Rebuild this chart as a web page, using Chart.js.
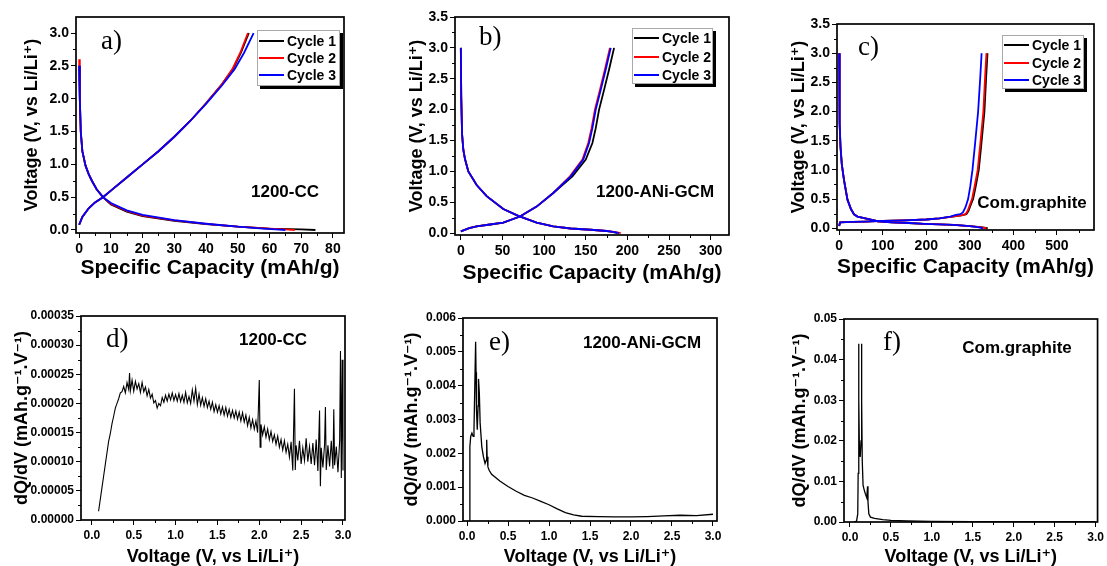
<!DOCTYPE html>
<html>
<head>
<meta charset="utf-8">
<script src="https://cdn.jsdelivr.net/npm/chart.js@4.4.0/dist/chart.umd.min.js"></script>
<style>
    html, body { margin: 0; padding: 0; background: #fff; }
    #wrap { position: relative; width: 1107px; height: 566px; overflow: hidden; background: #fff; }
    #wrap canvas { position: absolute; }
</style>
</head>
<body>
<div id="wrap">
    <canvas id="pa" width="370" height="290" style="left:0px;top:0px"></canvas>
    <canvas id="pb" width="370" height="290" style="left:370px;top:0px"></canvas>
    <canvas id="pc" width="370" height="290" style="left:737px;top:0px"></canvas>
    <canvas id="pd" width="370" height="290" style="left:0px;top:290px"></canvas>
    <canvas id="pe" width="370" height="290" style="left:370px;top:290px"></canvas>
    <canvas id="pf" width="370" height="290" style="left:737px;top:290px"></canvas>
</div>
<script>
// ---- data ----
const legendLabels = ['Cycle 1', 'Cycle 2', 'Cycle 3'];
const cycleColors = ['#000000', '#ff0000', '#0000ff'];

// a) 1200-CC
const aCap1Dis = [0, 0.2, 0.5, 1, 2, 3, 4, 5.5, 7.5, 10, 15, 20, 30, 40, 50, 60, 70, 74.5];
const aVolt1Dis = [2.5, 2.0, 1.5, 1.2, 0.98, 0.85, 0.75, 0.62, 0.5, 0.39, 0.28, 0.21, 0.14, 0.09, 0.05, 0.022, 0.008, 0.0];
const aCap2Dis = [0, 0.2, 0.5, 1, 2, 3, 4, 5.5, 7.5, 10, 15, 20, 30, 40, 50, 60, 65, 68];
const aVolt2Dis = [2.6, 2.0, 1.5, 1.2, 0.98, 0.85, 0.75, 0.62, 0.5, 0.4, 0.29, 0.22, 0.145, 0.092, 0.05, 0.02, 0.008, 0.0];
const aCap3Dis = [0, 0.2, 0.5, 1, 2, 3, 4, 5.5, 7.5, 10, 15, 20, 30, 40, 50, 58, 62, 65];
const aVolt3Dis = [2.5, 2.0, 1.5, 1.2, 0.98, 0.85, 0.75, 0.62, 0.5, 0.41, 0.3, 0.23, 0.15, 0.095, 0.05, 0.022, 0.01, 0.0];
const aCap1Chg = [0, 1, 3, 5, 7.5, 10, 15, 20, 25, 30, 35, 40, 45, 48.5, 51, 53.5];
const aCap2Chg = [0, 1, 3, 5, 7.5, 10, 15, 20, 25, 30, 35, 40, 45, 48.3, 50.8, 53.2];
const aVolt12Chg = [0.08, 0.2, 0.33, 0.42, 0.5, 0.6, 0.8, 1.0, 1.2, 1.42, 1.66, 1.93, 2.22, 2.45, 2.7, 3.0];
const aCap3Chg = [0, 1, 3, 5, 7.5, 10, 15, 20, 25, 30, 35, 40, 45, 49, 52, 55];
const aVolt3Chg = [0.08, 0.2, 0.33, 0.42, 0.5, 0.6, 0.8, 1.0, 1.2, 1.42, 1.66, 1.92, 2.2, 2.45, 2.7, 3.0];

// b) 1200-ANi-GCM
const bCap1Dis = [0, 0.5, 1.5, 3, 5, 9, 19, 31, 51, 69, 91, 111, 132, 156, 175, 183, 188];
const bCap2Dis = [0, 0.5, 1.5, 3, 5, 9, 19, 31, 51, 69, 91, 111, 132, 156, 175, 186, 192];
const bCap3Dis = [0, 0.5, 1.5, 3, 5, 9, 19, 31, 51, 69, 91, 111, 132, 156, 175, 185, 190];
const bVoltDis = [3.0, 2.2, 1.6, 1.35, 1.2, 1.0, 0.78, 0.6, 0.39, 0.28, 0.17, 0.11, 0.075, 0.055, 0.035, 0.015, 0.0];
const bCap1Chg = [0, 10, 19, 35, 51, 71, 91, 111, 134, 150, 158, 162, 166, 172, 178, 184];
const bCap2Chg = [0, 10, 19, 35, 51, 71, 91, 111, 131, 146, 153, 157, 161, 167, 173, 179];
const bCap3Chg = [0, 10, 19, 35, 51, 71, 91, 111, 132, 147, 154, 158, 162, 168, 174, 180];
const bVoltChg = [0.03, 0.08, 0.11, 0.14, 0.17, 0.27, 0.43, 0.65, 0.92, 1.19, 1.46, 1.7, 2.0, 2.32, 2.65, 3.0];

// c) Com.graphite
const cCap1Dis = [0, 0.5, 1.5, 3, 6, 11, 19, 27, 34, 42, 65, 88, 120, 160, 195, 230, 263, 300, 325, 341];
const cCap2Dis = [0, 0.5, 1.5, 3, 6, 11, 19, 27, 34, 42, 65, 88, 120, 160, 195, 230, 263, 300, 323, 338];
const cCap3Dis = [0, 0.5, 1.5, 3, 6, 11, 19, 27, 34, 42, 65, 88, 120, 160, 195, 230, 263, 300, 318, 330];
const cVoltDis = [3.0, 2.4, 1.8, 1.4, 1.1, 0.83, 0.49, 0.33, 0.24, 0.2, 0.16, 0.12, 0.1, 0.09, 0.075, 0.065, 0.057, 0.035, 0.018, 0.0];
const cCap1Chg = [0, 2, 30, 60, 100, 150, 200, 230, 260, 281, 292, 297, 302, 307.5, 313.5, 320.5, 326.5, 333.5, 337.5, 340.5];
const cCap2Chg = [0, 2, 30, 60, 100, 150, 200, 230, 260, 280, 290, 295, 300, 305, 311, 318, 324, 331, 335, 338];
const cCap3Chg = [0, 2, 30, 60, 100, 150, 200, 230, 255, 268, 278, 284, 290, 296, 301, 306, 312, 319, 324, 327];
const cVolt12Chg = [0.04, 0.1, 0.11, 0.115, 0.125, 0.135, 0.15, 0.17, 0.2, 0.22, 0.24, 0.3, 0.4, 0.5, 0.72, 1.0, 1.45, 2.0, 2.6, 3.0];
const cVolt3Chg = [0.04, 0.1, 0.11, 0.115, 0.125, 0.135, 0.15, 0.17, 0.2, 0.23, 0.24, 0.27, 0.36, 0.5, 0.72, 1.0, 1.45, 2.0, 2.6, 3.0];

// d) 1200-CC dQ/dV
const dVolt = [
    0.08, 0.10, 0.12, 0.14, 0.16, 0.18, 0.20, 0.22, 0.24, 0.26,
    0.28, 0.30, 0.32, 0.34, 0.36, 0.38, 0.40, 0.42, 0.44, 0.45,
    0.46, 0.48, 0.50, 0.52, 0.54, 0.56, 0.58, 0.60, 0.62, 0.64,
    0.66, 0.68, 0.70, 0.72, 0.74, 0.76, 0.78, 0.80, 0.82, 0.84,
    0.86, 0.88, 0.90, 0.92, 0.94, 0.96, 0.98, 1.00, 1.02, 1.04,
    1.06, 1.08, 1.10, 1.12, 1.14, 1.16, 1.18, 1.20, 1.22, 1.24,
    1.26, 1.28, 1.30, 1.32, 1.34, 1.36, 1.38, 1.40, 1.42, 1.44,
    1.46, 1.48, 1.50, 1.52, 1.54, 1.56, 1.58, 1.60, 1.62, 1.64,
    1.66, 1.68, 1.70, 1.72, 1.74, 1.76, 1.78, 1.80, 1.82, 1.84,
    1.86, 1.88, 1.90, 1.92, 1.94, 1.96, 1.98, 2.00, 2.01, 2.02,
    2.04, 2.06, 2.08, 2.10, 2.12, 2.14, 2.16, 2.18, 2.20, 2.22,
    2.24, 2.26, 2.28, 2.30, 2.32, 2.34, 2.36, 2.38, 2.40, 2.42,
    2.43, 2.44, 2.46, 2.48, 2.50, 2.52, 2.54, 2.56, 2.58, 2.60,
    2.62, 2.64, 2.66, 2.68, 2.70, 2.72, 2.73, 2.74, 2.76, 2.78,
    2.79, 2.80, 2.82, 2.84, 2.86, 2.88, 2.89, 2.90, 2.92, 2.94,
    2.96, 2.97, 2.98, 2.99, 3.00
];
const dDqdv = [
    1.5e-5, 3.5e-5, 5.5e-5, 7.5e-5, 9.5e-5, 11.5e-5, 13.5e-5, 14.8e-5, 16.5e-5, 17.8e-5,
    19.2e-5, 20.0e-5, 20.8e-5, 21.8e-5, 22.0e-5, 22.9e-5, 21.8e-5, 23.6e-5, 22.4e-5, 25.2e-5,
    22.2e-5, 24.0e-5, 22.1e-5, 23.8e-5, 22.5e-5, 23.4e-5, 21.9e-5, 23.6e-5, 22.0e-5, 22.8e-5,
    21.3e-5, 22.4e-5, 20.9e-5, 21.6e-5, 20.1e-5, 20.5e-5, 19.2e-5, 20.0e-5, 19.6e-5, 21.0e-5,
    20.2e-5, 21.4e-5, 20.4e-5, 21.6e-5, 20.6e-5, 21.8e-5, 20.5e-5, 21.5e-5, 20.4e-5, 21.7e-5,
    20.3e-5, 21.4e-5, 20.2e-5, 21.9e-5, 20.1e-5, 21.2e-5, 20.0e-5, 22.3e-5, 20.4e-5, 22.6e-5,
    19.8e-5, 21.6e-5, 19.7e-5, 21.0e-5, 19.5e-5, 20.8e-5, 19.3e-5, 20.4e-5, 19.0e-5, 20.2e-5,
    18.6e-5, 19.8e-5, 18.5e-5, 19.6e-5, 18.2e-5, 19.4e-5, 18.0e-5, 19.3e-5, 17.8e-5, 19.0e-5,
    17.6e-5, 18.8e-5, 17.5e-5, 18.7e-5, 17.3e-5, 18.5e-5, 17.0e-5, 18.4e-5, 16.8e-5, 18.0e-5,
    16.2e-5, 17.6e-5, 15.8e-5, 17.2e-5, 15.6e-5, 17.0e-5, 15.0e-5, 24.0e-5, 12.5e-5, 16.4e-5,
    14.6e-5, 16.0e-5, 14.2e-5, 15.6e-5, 13.8e-5, 15.2e-5, 13.5e-5, 14.6e-5, 13.0e-5, 14.4e-5,
    12.5e-5, 13.8e-5, 12.0e-5, 13.6e-5, 11.6e-5, 13.0e-5, 10.8e-5, 13.4e-5, 8.5e-5, 22.5e-5,
    8.6e-5, 12.8e-5, 10.2e-5, 13.6e-5, 9.6e-5, 12.4e-5, 10.2e-5, 14.0e-5, 10.0e-5, 12.6e-5,
    9.6e-5, 13.2e-5, 9.4e-5, 13.8e-5, 8.4e-5, 18.8e-5, 5.8e-5, 12.4e-5, 9.0e-5, 13.0e-5,
    19.4e-5, 8.6e-5, 12.8e-5, 9.2e-5, 13.6e-5, 8.8e-5, 19.0e-5, 9.4e-5, 12.6e-5, 8.2e-5,
    13.6e-5, 29.0e-5, 7.2e-5, 27.5e-5, 8.5e-5
];

// e) 1200-ANi-GCM dQ/dV
const eVolt = [0.030, 0.035, 0.045, 0.060, 0.075, 0.085, 0.095, 0.105, 0.110, 0.115,
    0.125, 0.135, 0.140, 0.150, 0.160, 0.180, 0.200, 0.220, 0.235, 0.240,
    0.245, 0.255, 0.270, 0.300, 0.4, 0.5, 0.6, 0.7, 0.8, 0.9,
    1.0, 1.1, 1.2, 1.3, 1.4, 1.6, 1.8, 2.0, 2.2, 2.4, 2.6, 2.8, 3.0];
const eDqdv = [0, 0.0022, 0.0025, 0.0026, 0.0025, 0.0027, 0.0040, 0.0053, 0.0044, 0.0033,
    0.0027, 0.0034, 0.0042, 0.0038, 0.0029, 0.0022, 0.0019, 0.0017, 0.0018, 0.0024,
    0.0019, 0.0016, 0.0015, 0.00138, 0.00118, 0.00102, 0.00088, 0.00076, 0.00068, 0.00058,
    0.00048, 0.00036, 0.00025, 0.00018, 0.00014, 0.00013, 0.00012, 0.00012, 0.00013, 0.00015, 0.00017, 0.00016, 0.0002];

// f) Com.graphite dQ/dV
const fVolt = [0.05, 0.08, 0.095, 0.100, 0.105, 0.110, 0.115, 0.125, 0.135, 0.140,
    0.145, 0.150, 0.160, 0.175, 0.190, 0.205, 0.215, 0.220, 0.230, 0.250,
    0.300, 0.400, 0.500, 0.700, 1.000, 1.500, 2.000, 2.500, 3.000];
const fDqdv = [0, 0.0002, 0.002, 0.012, 0.0439, 0.03, 0.018, 0.016, 0.02, 0.0439,
    0.03, 0.015, 0.009, 0.0078, 0.0068, 0.006, 0.0088, 0.005, 0.002, 0.0012,
    0.0009, 0.0006, 0.0004, 0.00025, 0.00015, 0.0001, 0.0001, 0.0001, 0.0001];

// tick values
const aXTicks = [0, 10, 20, 30, 40, 50, 60, 70, 80];
const bXTicks = [0, 50, 100, 150, 200, 250, 300];
const cXTicks = [0, 100, 200, 300, 400, 500];
const voltTicks = [0, 0.5, 1.0, 1.5, 2.0, 2.5, 3.0];
const voltTicksB = [0, 0.5, 1.0, 1.5, 2.0, 2.5, 3.0, 3.5];
const dYTicks = [0, 0.00005, 0.0001, 0.00015, 0.0002, 0.00025, 0.0003, 0.00035];
const eYTicks = [0, 0.001, 0.002, 0.003, 0.004, 0.005, 0.006];
const fYTicks = [0, 0.01, 0.02, 0.03, 0.04, 0.05];

// ---- drawing ----
const SANS = "'Liberation Sans', Arial, 'DejaVu Sans', sans-serif";
const SERIF = "'Liberation Serif', 'Times New Roman', serif";
const capTitle = 'Specific Capacity (mAh/g)';
const voltTitle = 'Voltage (V, vs Li/Li\u207A)';
const dqdvTitle = 'dQ/dV (mAh.g\u207B\u00B9.V\u207B\u00B9)';

function pts(xs, ys) {
    return xs.map((x, i) => ({ x: x, y: ys[i] }));
}

function line(data, color, width) {
    return { data: data, borderColor: color, borderWidth: width, showLine: true, pointRadius: 0, fill: false };
}

function minorsOf(ticks, min, max) {
    const out = [];
    const step = ticks[1] - ticks[0];
    const all = [ticks[0] - step].concat(ticks, [ticks[ticks.length - 1] + step]);
    for (let i = 0; i < all.length - 1; i++) {
        const m = (all[i] + all[i + 1]) / 2;
        if (m > min && m < max) out.push(m);
    }
    return out;
}

const panelDecor = {
    id: 'panelDecor',
    afterDraw(chart, args, o) {
        const ctx = chart.ctx;
        const { left, top, right, bottom } = chart.chartArea;
        const xs = chart.scales.x;
        const ys = chart.scales.y;
        ctx.save();
        ctx.strokeStyle = '#000';
        ctx.lineWidth = 1;
        ctx.beginPath();
        minorsOf(o.xTicks, xs.min, xs.max).forEach(v => {
            const px = Math.round(xs.getPixelForValue(v)) + 0.5;
            ctx.moveTo(px, bottom);
            ctx.lineTo(px, bottom + 3);
        });
        minorsOf(o.yTicks, ys.min, ys.max).forEach(v => {
            const py = Math.round(ys.getPixelForValue(v)) + 0.5;
            ctx.moveTo(left, py);
            ctx.lineTo(left - 3, py);
        });
        ctx.stroke();

        ctx.lineWidth = 1.7;
        ctx.strokeRect(left, top, right - left, bottom - top);

        ctx.fillStyle = '#000';
        ctx.textBaseline = 'middle';
        ctx.textAlign = 'left';
        ctx.font = '27px ' + SERIF;
        ctx.fillText(o.letter, o.letterX, o.letterY);

        ctx.textAlign = 'center';
        ctx.font = 'bold 17px ' + SANS;
        ctx.fillText(o.note, o.noteX, o.noteY);

        if (o.legend) {
            const g = o.legend;
            ctx.fillStyle = '#000';
            ctx.fillRect(g.x + 3, g.y + 3, g.w, g.h);
            ctx.fillStyle = '#fff';
            ctx.fillRect(g.x, g.y, g.w, g.h);
            ctx.strokeStyle = '#aaa';
            ctx.lineWidth = 1;
            ctx.strokeRect(g.x + 0.5, g.y + 0.5, g.w - 1, g.h - 1);
            ctx.textAlign = 'left';
            ctx.font = 'bold 14px ' + SANS;
            legendLabels.forEach((lab, i) => {
                const ry = g.y + g.rows[i];
                ctx.strokeStyle = cycleColors[i];
                ctx.lineWidth = 2;
                ctx.beginPath();
                ctx.moveTo(g.x + 2, ry);
                ctx.lineTo(g.x + 27, ry);
                ctx.stroke();
                ctx.fillStyle = '#000';
                ctx.fillText(lab, g.x + 30, ry + 1);
            });
        }
        ctx.restore();
    }
};

function makePanel(id, p) {
    const tickFont = { family: SANS, size: p.tickSize, weight: 'bold' };
    const xTitleFont = { family: SANS, size: p.xTitleSize, weight: 'bold' };
    const yTitleFont = { family: SANS, size: 18, weight: 'bold' };
    return new Chart(document.getElementById(id), {
        type: 'scatter',
        data: { datasets: p.datasets },
        options: {
            responsive: false,
            animation: false,
            devicePixelRatio: 1,
            layout: { padding: { top: p.padTop, right: p.padRight, left: 0, bottom: 0 } },
            plugins: {
                legend: { display: false },
                tooltip: { enabled: false },
                panelDecor: p.decor
            },
            scales: {
                x: {
                    type: 'linear',
                    min: p.xMin,
                    max: p.xMax,
                    afterBuildTicks: s => { s.ticks = p.decor.xTicks.map(v => ({ value: v })); },
                    afterFit: s => { s.height = p.xAxisH; },
                    ticks: { font: tickFont, color: '#000', padding: 3, maxRotation: 0, autoSkip: false,
                        callback: v => v.toFixed(p.xDec) },
                    grid: { drawOnChartArea: false, drawTicks: true, tickLength: 5, color: '#000', lineWidth: 1 },
                    border: { display: false },
                    title: { display: true, text: p.xTitle, font: xTitleFont, color: '#000',
                        padding: { top: 0, bottom: p.xTitlePad } }
                },
                y: {
                    type: 'linear',
                    min: p.yMin,
                    max: p.yMax,
                    afterBuildTicks: s => { s.ticks = p.decor.yTicks.map(v => ({ value: v })); },
                    afterFit: s => { s.width = p.yAxisW; },
                    ticks: { font: tickFont, color: '#000', padding: 2, autoSkip: false,
                        callback: v => v.toFixed(p.yDec) },
                    grid: { drawOnChartArea: false, drawTicks: true, tickLength: 5, color: '#000', lineWidth: 1 },
                    border: { display: false },
                    title: { display: true, text: p.yTitle, font: yTitleFont, color: '#000',
                        padding: { top: p.yTitlePad, bottom: 0 } }
                }
            }
        },
        plugins: [panelDecor]
    });
}

// Chart.js paints dataset 0 last, so cycle 3 (blue) goes first to sit on top
function cycleSets(dis, chg) {
    const sets = [];
    for (let i = 2; i >= 0; i--) {
        sets.push(line(dis[i], cycleColors[i], 1.8));
        sets.push(line(chg[i], cycleColors[i], 1.8));
    }
    return sets;
}

makePanel('pa', {
    datasets: cycleSets(
        [pts(aCap1Dis, aVolt1Dis), pts(aCap2Dis, aVolt2Dis), pts(aCap3Dis, aVolt3Dis)],
        [pts(aCap1Chg, aVolt12Chg), pts(aCap2Chg, aVolt12Chg), pts(aCap3Chg, aVolt3Chg)]),
    xMin: -1, xMax: 83.5, yMin: -0.046, yMax: 3.244, xDec: 0, yDec: 1,
    xTitle: capTitle, yTitle: voltTitle, tickSize: 14, xTitleSize: 21,
    yAxisW: 76, padTop: 17, padRight: 26, xAxisH: 57, xTitlePad: 9, yTitlePad: 21,
    decor: { xTicks: aXTicks, yTicks: voltTicks, letter: 'a)', letterX: 101, letterY: 42,
        note: '1200-CC', noteX: 285, noteY: 192,
        legend: { x: 257, y: 30, w: 83, h: 56, rows: [11, 28, 45] } }
});

makePanel('pb', {
    datasets: cycleSets(
        [pts(bCap1Dis, bVoltDis), pts(bCap2Dis, bVoltDis), pts(bCap3Dis, bVoltDis)],
        [pts(bCap1Chg, bVoltChg), pts(bCap2Chg, bVoltChg), pts(bCap3Chg, bVoltChg)]),
    xMin: -7, xMax: 322, yMin: -0.03, yMax: 3.5, xDec: 0, yDec: 1,
    xTitle: capTitle, yTitle: voltTitle, tickSize: 14, xTitleSize: 21,
    yAxisW: 85, padTop: 17, padRight: 11, xAxisH: 55, xTitlePad: 4, yTitlePad: 36,
    decor: { xTicks: bXTicks, yTicks: voltTicksB, letter: 'b)', letterX: 109, letterY: 38,
        note: '1200-ANi-GCM', noteX: 285, noteY: 192,
        legend: { x: 262, y: 28, w: 81, h: 56, rows: [10, 29, 47] } }
});

makePanel('pc', {
    datasets: cycleSets(
        [pts(cCap1Dis, cVoltDis), pts(cCap2Dis, cVoltDis), pts(cCap3Dis, cVoltDis)],
        [pts(cCap1Chg, cVolt12Chg), pts(cCap2Chg, cVolt12Chg), pts(cCap3Chg, cVolt3Chg)]),
    xMin: -5, xMax: 585, yMin: -0.03, yMax: 3.5, xDec: 0, yDec: 1,
    xTitle: capTitle, yTitle: voltTitle, tickSize: 14, xTitleSize: 21,
    yAxisW: 100, padTop: 24, padRight: 13, xAxisH: 60, xTitlePad: 10, yTitlePad: 51,
    decor: { xTicks: cXTicks, yTicks: voltTicksB, letter: 'c)', letterX: 121, letterY: 48,
        note: 'Com.graphite', noteX: 295, noteY: 203,
        legend: { x: 265, y: 35, w: 82, h: 54, rows: [10, 28, 45] } }
});

makePanel('pd', {
    datasets: [line(pts(dVolt, dDqdv), '#000', 1.1)],
    xMin: -0.13, xMax: 3.024, yMin: 0, yMax: 0.00035, xDec: 1, yDec: 5,
    xTitle: voltTitle, yTitle: dqdvTitle, tickSize: 12, xTitleSize: 18,
    yAxisW: 81, padTop: 26, padRight: 25, xAxisH: 60, xTitlePad: 12, yTitlePad: 11,
    decor: { xTicks: voltTicks, yTicks: dYTicks, letter: 'd)', letterX: 106, letterY: 50,
        note: '1200-CC', noteX: 273, noteY: 50, legend: null }
});

makePanel('pe', {
    datasets: [line(pts(eVolt, eDqdv), '#000', 1.3)],
    xMin: -0.049, xMax: 3.049, yMin: 0, yMax: 0.006, xDec: 1, yDec: 3,
    xTitle: voltTitle, yTitle: dqdvTitle, tickSize: 12, xTitleSize: 18,
    yAxisW: 93, padTop: 28, padRight: 23, xAxisH: 59, xTitlePad: 12, yTitlePad: 31,
    decor: { xTicks: voltTicks, yTicks: eYTicks, letter: 'e)', letterX: 119, letterY: 53,
        note: '1200-ANi-GCM', noteX: 272, noteY: 53, legend: null }
});

makePanel('pf', {
    datasets: [line(pts(fVolt, fDqdv), '#000', 1.3)],
    xMin: -0.073, xMax: 3.024, yMin: 0, yMax: 0.05, xDec: 1, yDec: 2,
    xTitle: voltTitle, yTitle: dqdvTitle, tickSize: 12, xTitleSize: 18,
    yAxisW: 107, padTop: 29, padRight: 8, xAxisH: 58, xTitlePad: 12, yTitlePad: 52,
    decor: { xTicks: voltTicks, yTicks: fYTicks, letter: 'f)', letterX: 146, letterY: 53,
        note: 'Com.graphite', noteX: 280, noteY: 58, legend: null }
});
</script>
</body>
</html>
